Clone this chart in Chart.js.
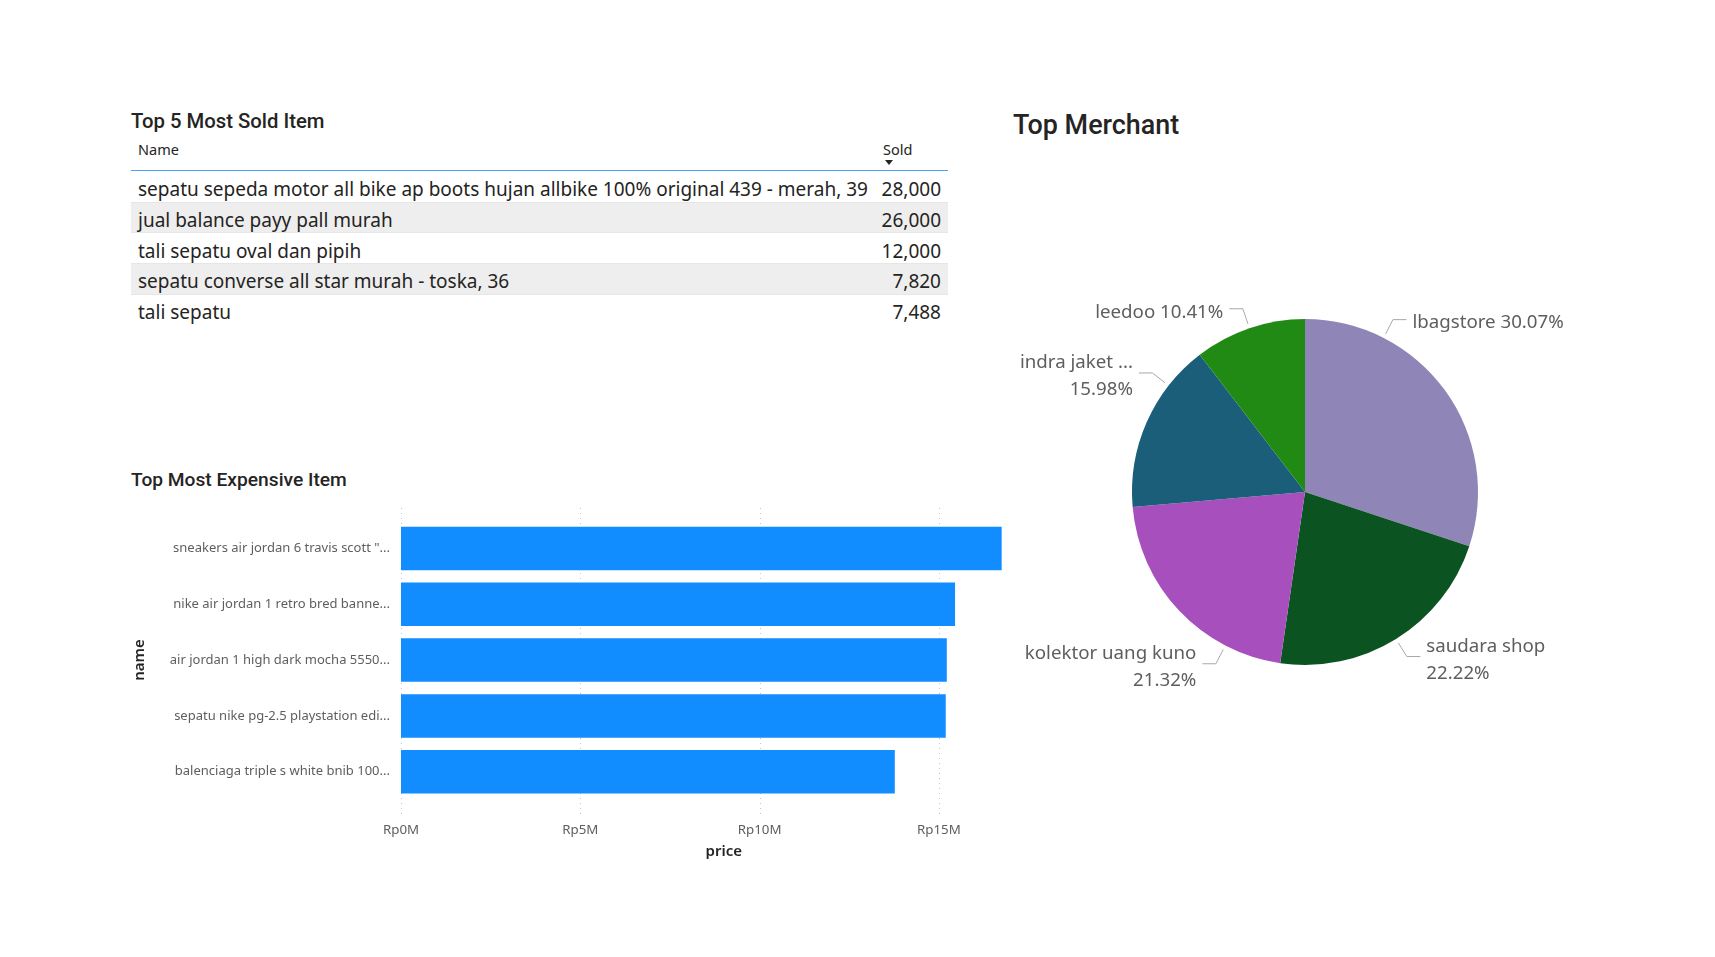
<!DOCTYPE html>
<html>
<head>
<meta charset="utf-8">
<script src="https://cdn.jsdelivr.net/npm/chart.js@4.4.1/dist/chart.umd.min.js"></script>
<style>
html,body{margin:0;padding:0;background:#fff;}
body{width:1715px;height:957px;position:relative;overflow:hidden;font-family:"Noto Sans","Open Sans",sans-serif;color:#252423;}
.ttl{position:absolute;font-family:Roboto,"Noto Sans",sans-serif;font-weight:500;color:#252423;white-space:nowrap;line-height:1;}
#t1{left:131px;top:111px;font-size:20.3px;}
#t2{left:131px;top:470px;font-size:19.2px;}
#t3{left:1013px;top:112px;font-size:26.9px;}
.hd{position:absolute;font-size:14.5px;line-height:1;white-space:nowrap;color:#252423;}
#arrow{position:absolute;left:885px;top:160px;width:0;height:0;border-left:4.5px solid transparent;border-right:4.5px solid transparent;border-top:5px solid #252423;}
#hline{position:absolute;left:131px;top:170px;width:817px;height:1px;background:#4aa0ee;}
#rows{position:absolute;left:131px;top:172.2px;width:817px;}
.row{height:30.6px;box-sizing:border-box;display:flex;align-items:center;justify-content:space-between;padding:5px 7px 0 7px;font-size:19px;white-space:nowrap;color:#252423;border-bottom:1px solid #e6e6e6;}
.row.alt{background:#eeeeee;}
.row:last-child{border-bottom:none;}
canvas{position:absolute;}
#bar{left:120px;top:500px;}
#pie{left:1000px;top:280px;}
</style>
</head>
<body>
<div class="ttl" id="t1">Top 5 Most Sold Item</div>
<div class="hd" style="left:138px;top:142px;">Name</div>
<div class="hd" style="left:883px;top:142px;">Sold</div>
<div id="arrow"></div>
<div id="hline"></div>
<div id="rows"></div>

<div class="ttl" id="t2">Top Most Expensive Item</div>
<div class="ttl" id="t3">Top Merchant</div>

<canvas id="bar" width="940" height="370"></canvas>
<canvas id="pie" width="640" height="440"></canvas>

<script>
// ---------- data ----------
const soldItems = [
  'sepatu sepeda motor all bike ap boots hujan allbike 100% original 439 - merah, 39',
  'jual balance payy pall murah',
  'tali sepatu oval dan pipih',
  'sepatu converse all star murah - toska, 36',
  'tali sepatu'
];
const soldCounts = [28000, 26000, 12000, 7820, 7488];

const expensiveItems = [
  'sneakers air jordan 6 travis scott "...',
  'nike air jordan 1 retro bred banne...',
  'air jordan 1 high dark mocha 5550...',
  'sepatu nike pg-2.5 playstation edi...',
  'balenciaga triple s white bnib 100...'
];
const expensivePrices = [16750000, 15450000, 15220000, 15190000, 13770000];
const priceTicks = [0, 5000000, 10000000, 15000000];

const merchants = ['lbagstore', 'saudara shop', 'kolektor uang kuno', 'indra jaket ...', 'leedoo'];
const merchantShare = [30.07, 22.22, 21.32, 15.98, 10.41];

// ---------- style ----------
const merchantColors = ['#8F86B7', '#0C5322', '#A74FBC', '#1A5E7A', '#218A14'];
const labelAngleShift = [-27.1, 0, -19.2, 14.2, 0];
const labelWrap = [false, true, true, true, false];

// ---------- table ----------
const rowsEl = document.getElementById('rows');
soldItems.forEach((name, i) => {
  const r = document.createElement('div');
  r.className = 'row' + (i % 2 === 1 ? ' alt' : '');
  const a = document.createElement('span'); a.textContent = name;
  const b = document.createElement('span'); b.textContent = soldCounts[i].toLocaleString('en-US');
  r.appendChild(a); r.appendChild(b);
  rowsEl.appendChild(r);
});

// ---------- bar chart ----------
const dotGrid = {
  id: 'dotGrid',
  beforeDatasetsDraw(chart) {
    const {ctx, chartArea, scales: {x}} = chart;
    ctx.save();
    ctx.strokeStyle = '#c8c6c4';
    ctx.lineWidth = 1;
    ctx.setLineDash([1, 4]);
    priceTicks.forEach(v => {
      const px = Math.round(x.getPixelForValue(v)) + 0.5;
      ctx.beginPath();
      ctx.moveTo(px, chartArea.top - 12.6);
      ctx.lineTo(px, chartArea.bottom + 15.4);
      ctx.stroke();
    });
    ctx.restore();
  }
};

new Chart(document.getElementById('bar'), {
  type: 'bar',
  data: {
    labels: expensiveItems,
    datasets: [{data: expensivePrices, backgroundColor: '#118DFF', barPercentage: 0.78, categoryPercentage: 1}]
  },
  options: {
    indexAxis: 'y',
    responsive: false,
    animation: false,
    devicePixelRatio: 1,
    layout: {padding: {left: 0, right: 13.5, top: 20.6, bottom: 0}},
    plugins: {legend: {display: false}, tooltip: {enabled: false}},
    scales: {
      x: {
        min: 0, max: 18000000,
        afterBuildTicks: s => { s.ticks = priceTicks.map(v => ({value: v})); },
        afterFit: s => { s.height = 70.4; },
        grid: {display: false, drawTicks: false},
        border: {display: false},
        ticks: {
          padding: 23, color: '#605E5C', maxRotation: 0,
          font: {family: '"Noto Sans"', size: 13.3},
          callback: v => 'Rp' + (v / 1000000) + 'M'
        },
        title: {display: true, text: 'price', color: '#252423',
          font: {family: '"Noto Sans"', size: 15, weight: '600'}, padding: {top: 0, bottom: 9.3}}
      },
      y: {
        afterFit: s => { s.width = 281; },
        grid: {display: false, drawTicks: false},
        border: {display: false},
        ticks: {padding: 11, color: '#605E5C', font: {family: '"Noto Sans"', size: 13}},
        title: {display: true, text: 'name', color: '#252423',
          font: {family: '"Noto Sans"', size: 15, weight: '600'}, padding: {top: 11, bottom: 0}}
      }
    }
  },
  plugins: [dotGrid]
});

// ---------- pie chart ----------
const pieLabels = {
  id: 'pieLabels',
  afterDatasetsDraw(chart) {
    const {ctx} = chart;
    const meta = chart.getDatasetMeta(0);
    ctx.save();
    ctx.font = '18.7px "Noto Sans"';
    ctx.fillStyle = '#605E5C';
    ctx.textBaseline = 'middle';
    meta.data.forEach((arc, i) => {
      const p = arc.getProps(['x', 'y', 'startAngle', 'endAngle', 'outerRadius'], true);
      const a = (p.startAngle + p.endAngle) / 2 + labelAngleShift[i] * Math.PI / 180;
      const r1 = p.outerRadius + 4.5, r2 = p.outerRadius + 20.5;
      const sx = p.x + Math.cos(a) * r1, sy = p.y + Math.sin(a) * r1;
      const ex = p.x + Math.cos(a) * r2, ey = p.y + Math.sin(a) * r2;
      const dir = Math.cos(a) >= 0 ? 1 : -1;
      const hx = ex + dir * 13.5;
      ctx.strokeStyle = '#a8a8a8';
      ctx.lineWidth = 1;
      ctx.beginPath();
      ctx.moveTo(sx, sy); ctx.lineTo(ex, ey); ctx.lineTo(hx, ey);
      ctx.stroke();
      ctx.textAlign = dir > 0 ? 'left' : 'right';
      const tx = hx + dir * 6;
      const pct = merchantShare[i].toFixed(2) + '%';
      const cy = ey + 3.5;
      if (labelWrap[i]) {
        ctx.fillText(merchants[i], tx, cy - 13.5);
        ctx.fillText(pct, tx, cy + 13.5);
      } else {
        ctx.fillText(merchants[i] + ' ' + pct, tx, cy);
      }
    });
    ctx.restore();
  }
};

new Chart(document.getElementById('pie'), {
  type: 'pie',
  data: {
    labels: merchants,
    datasets: [{data: merchantShare, backgroundColor: merchantColors, borderWidth: 0}]
  },
  options: {
    responsive: false,
    animation: false,
    devicePixelRatio: 1,
    layout: {padding: {left: 132, right: 162, top: 39, bottom: 55}},
    plugins: {legend: {display: false}, tooltip: {enabled: false}}
  },
  plugins: [pieLabels]
});
</script>
</body>
</html>
